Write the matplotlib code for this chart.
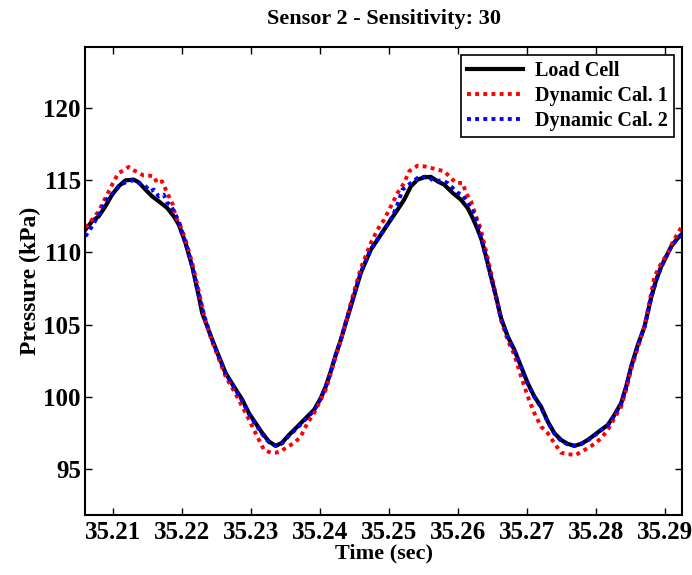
import matplotlib.pyplot as plt
import numpy as np

# values
load_t = [35.20594, 35.20691, 35.20787, 35.20884, 35.20981, 35.21077, 35.21174, 35.21295,
          35.21367, 35.21464, 35.21562, 35.21657, 35.21779, 35.21875, 35.21948, 35.22045,
          35.22142, 35.22238, 35.22287, 35.22360, 35.22432, 35.22529, 35.22626, 35.22746,
          35.22868, 35.22964, 35.23061, 35.23158, 35.23254, 35.23351, 35.23440, 35.23545,
          35.23666, 35.23787, 35.23907, 35.24004, 35.24077, 35.24149, 35.24222, 35.24295,
          35.24367, 35.24440, 35.24512, 35.24585, 35.24657, 35.24730, 35.24827, 35.24923,
          35.25020, 35.25118, 35.25213, 35.25311, 35.25408, 35.25504, 35.25601, 35.25698,
          35.25794, 35.25916, 35.26036, 35.26133, 35.26206, 35.26279, 35.26335, 35.26399,
          35.26471, 35.26544, 35.26617, 35.26714, 35.26810, 35.26907, 35.27004, 35.27100,
          35.27197, 35.27294, 35.27390, 35.27487, 35.27584, 35.27681, 35.27778, 35.27874,
          35.27971, 35.28068, 35.28165, 35.28261, 35.28358, 35.28431, 35.28503, 35.28600,
          35.28697, 35.28794, 35.28866, 35.28939, 35.29012, 35.29084, 35.29157, 35.29244]
load_p = [111.57, 112.14, 112.49, 113.18, 113.99, 114.57, 114.98, 115.03,
          114.84, 114.34, 113.87, 113.53, 113.07, 112.49, 111.91, 110.64,
          109.02, 106.95, 105.79, 104.86, 103.94, 102.79, 101.64, 100.71,
          99.79, 98.86, 98.17, 97.48, 96.90, 96.60, 96.80, 97.36,
          97.93, 98.52, 99.09, 99.90, 100.71, 101.75, 102.90, 103.94,
          105.10, 106.25, 107.41, 108.57, 109.37, 110.18, 110.87, 111.57,
          112.26, 112.95, 113.64, 114.57, 115.03, 115.19, 115.22, 114.91,
          114.68, 114.11, 113.64, 113.07, 112.38, 111.57, 110.87, 109.72,
          108.33, 106.94, 105.45, 104.17, 103.25, 102.09, 100.94, 100.01,
          99.32, 98.28, 97.48, 97.01, 96.74, 96.60, 96.74, 97.01,
          97.36, 97.71, 98.05, 98.75, 99.56, 100.71, 102.09, 103.60,
          104.87, 106.90, 108.10, 109.02, 109.72, 110.41, 110.87, 111.30]

cal1_t = [35.20594, 35.20691, 35.20787, 35.20859, 35.20932, 35.21005, 35.21077, 35.21150,
          35.21222, 35.21295, 35.21367, 35.21440, 35.21512, 35.21585, 35.21633, 35.21706,
          35.21779, 35.21827, 35.21861, 35.21900, 35.21972, 35.22045, 35.22142, 35.22238,
          35.22335, 35.22432, 35.22529, 35.22626, 35.22746, 35.22892, 35.22989, 35.23085,
          35.23182, 35.23279, 35.23351, 35.23424, 35.23521, 35.23617, 35.23714, 35.23811,
          35.23907, 35.24004, 35.24077, 35.24149, 35.24222, 35.24295, 35.24367, 35.24440,
          35.24585, 35.24730, 35.24827, 35.24923, 35.25068, 35.25118, 35.25213, 35.25285,
          35.25408, 35.25504, 35.25601, 35.25698, 35.25794, 35.25867, 35.25964, 35.26061,
          35.26109, 35.26182, 35.26254, 35.26327, 35.26335, 35.26424, 35.26544, 35.26617,
          35.26714, 35.26810, 35.26907, 35.27004, 35.27100, 35.27197, 35.27294, 35.27390,
          35.27487, 35.27584, 35.27705, 35.27778, 35.27874, 35.27971, 35.28068, 35.28165,
          35.28261, 35.28358, 35.28431, 35.28503, 35.28600, 35.28697, 35.28842, 35.28939,
          35.29036, 35.29109, 35.29244]
cal1_p = [111.70, 112.26, 112.84, 113.53, 114.22, 114.91, 115.50, 115.68,
          115.91, 115.68, 115.50, 115.31, 115.31, 115.26, 114.80, 114.91,
          114.11, 113.64, 113.30, 112.49, 111.80, 110.87, 109.26, 107.30,
          105.20, 103.80, 102.60, 101.40, 100.40, 99.09, 98.17, 97.24,
          96.32, 96.13, 96.13, 96.20, 96.55, 96.78, 97.24, 98.17,
          98.86, 99.79, 100.48, 101.60, 102.80, 103.90, 105.10, 106.50,
          108.90, 110.64, 111.57, 112.26, 113.64, 114.11, 114.80, 115.61,
          116.00, 115.95, 115.84, 115.72, 115.61, 115.26, 114.80, 114.80,
          114.11, 113.53, 112.49, 111.57, 111.34, 109.60, 107.00, 105.30,
          103.90, 102.90, 101.41, 100.02, 98.86, 97.94, 97.48, 96.78,
          96.13, 96.02, 95.97, 96.20, 96.44, 96.74, 97.13, 97.71,
          98.52, 99.32, 100.48, 101.90, 103.40, 104.90, 108.33, 109.26,
          109.95, 110.76, 111.84]

cal2_t = [35.20594, 35.20691, 35.20787, 35.20859, 35.20932, 35.21029, 35.21077, 35.21174,
          35.21271, 35.21367, 35.21464, 35.21537, 35.21585, 35.21657, 35.21730, 35.21779,
          35.21827, 35.21875, 35.21948, 35.22045, 35.22142, 35.22238, 35.22335, 35.22432,
          35.22529, 35.22626, 35.22746, 35.22868, 35.22964, 35.23061, 35.23158, 35.23254,
          35.23351, 35.23440, 35.23545, 35.23666, 35.23787, 35.23907, 35.24004, 35.24077,
          35.24149, 35.24222, 35.24295, 35.24367, 35.24440, 35.24512, 35.24585, 35.24657,
          35.24730, 35.24827, 35.24923, 35.25044, 35.25116, 35.25189, 35.25311, 35.25408,
          35.25552, 35.25649, 35.25746, 35.25843, 35.25916, 35.25988, 35.26061, 35.26133,
          35.26206, 35.26279, 35.26335, 35.26399, 35.26471, 35.26544, 35.26617, 35.26714,
          35.26810, 35.26907, 35.27004, 35.27100, 35.27197, 35.27294, 35.27390, 35.27487,
          35.27584, 35.27681, 35.27778, 35.27874, 35.27971, 35.28068, 35.28165, 35.28261,
          35.28358, 35.28431, 35.28503, 35.28600, 35.28697, 35.28794, 35.28866, 35.28939,
          35.29012, 35.29084, 35.29157, 35.29244]
cal2_p = [111.10, 111.80, 112.60, 113.30, 113.87, 114.22, 114.57, 114.84,
          114.98, 114.80, 114.57, 114.22, 114.34, 113.87, 113.99, 113.42,
          113.30, 112.84, 112.14, 110.64, 109.00, 107.00, 105.30, 103.90,
          102.75, 101.60, 100.65, 99.70, 98.80, 98.10, 97.40, 96.85,
          96.60, 96.75, 97.30, 97.85, 98.45, 99.05, 99.85, 100.70,
          101.70, 102.90, 103.95, 105.15, 106.30, 107.45, 108.60, 109.40,
          110.20, 110.90, 111.55, 112.49, 113.30, 114.34, 114.80, 115.15,
          115.26, 114.91, 114.98, 114.80, 114.46, 114.11, 113.99, 113.42,
          112.84, 112.03, 110.85, 109.70, 108.30, 106.90, 105.40, 104.15,
          103.20, 102.05, 100.90, 100.00, 99.25, 98.25, 97.45, 96.95,
          96.70, 96.60, 96.72, 96.98, 97.32, 97.68, 98.02, 98.72,
          99.52, 100.68, 102.05, 103.55, 104.85, 106.85, 108.05, 108.98,
          109.70, 110.38, 110.85, 111.25]

x_ticks = [35.21, 35.22, 35.23, 35.24, 35.25, 35.26, 35.27, 35.28, 35.29]
y_ticks = [95, 100, 105, 110, 115, 120]

plt.rcParams['font.family'] = ['Liberation Serif', 'DejaVu Serif']
plt.rcParams['font.weight'] = 'bold'

fig = plt.figure(figsize=(6.92, 5.75), dpi=100)
ax = fig.add_axes([0.123, 0.104, 0.863, 0.814])

ax.plot(load_t, load_p, color='black', lw=3, label='Load Cell')
ax.plot(cal1_t, cal1_p, color='red', lw=2.8, ls=(0, (1, 1.1)), label='Dynamic Cal. 1')
ax.plot(cal2_t, cal2_p, color='blue', lw=2.8, ls=(0, (1, 1.1)), label='Dynamic Cal. 2')

ax.set_xlim(35.2059, 35.29244)
ax.set_ylim(91.8, 124.2)
ax.set_xticks(x_ticks)
ax.set_xticklabels(['%.2f' % t for t in x_ticks])
ax.set_yticks(y_ticks)
ax.tick_params(direction='in', top=True, right=True, length=5, width=1,
               labelsize=18, pad=4)
ax.tick_params(axis='y', pad=3)
for s in ax.spines.values():
    s.set_linewidth(1.5)

ax.set_title('Sensor 2 - Sensitivity: 30', fontsize=16, fontweight='bold', pad=17)
ax.set_xlabel('Time (sec)', fontsize=16, fontweight='bold', labelpad=0)
ax.set_ylabel('Pressure (kPa)', fontsize=17, fontweight='bold', labelpad=2)

leg = ax.legend(loc='upper right', fancybox=False, edgecolor='black', framealpha=1,
                fontsize=14.5, handlelength=2.8, borderaxespad=0.4, labelspacing=0.25,
                borderpad=0.3, handletextpad=0.6)
leg.get_frame().set_linewidth(1.2)

fig.savefig('out.png', dpi=100)
